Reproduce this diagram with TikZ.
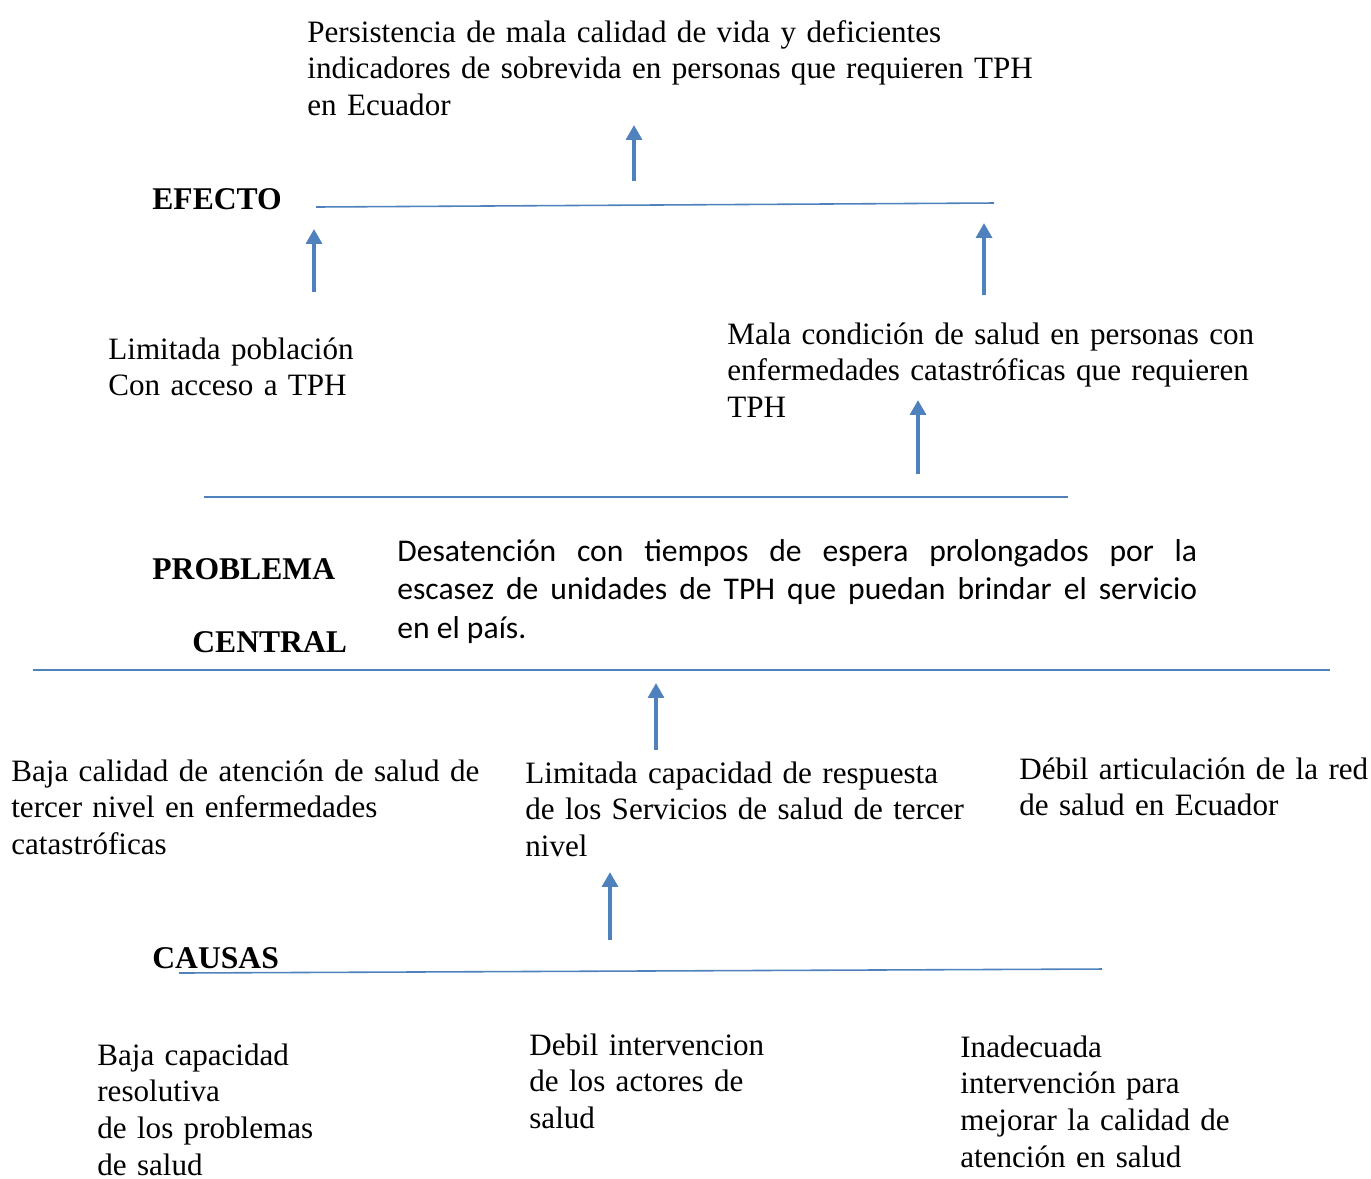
\documentclass[tikz,border=0pt]{standalone}
\usepackage{fontspec}
\setmainfont{Liberation Serif}
\newfontfamily\calibrifont{Carlito}
\usetikzlibrary{arrows.meta}
\definecolor{wordblue}{HTML}{4F81BD}
\tikzset{
	txt/.style={anchor=base west,inner sep=0pt,text width=16cm,align=left,font=\fontsize{17.7pt}{21pt}\selectfont},
	lbl/.style={anchor=base west,inner sep=0pt,font=\fontsize{18pt}{21pt}\selectfont\bfseries},
	bar/.style={wordblue,line width=0.9pt},
	up/.style={wordblue,line width=2.8pt,-{Triangle[width=9pt,length=8.5pt]}}
}
\begin{document}
\begin{tikzpicture}[x=0.02cm,y=-0.02cm]
	\useasboundingbox (0,0) rectangle (1371,1178);

	% efecto
	\node [txt] (persistencia) at (307,42) {Persistencia de mala calidad de vida y deficientes\\indicadores de sobrevida en personas que requieren TPH\\en Ecuador};
	\node [lbl] (efecto) at (152,209) {EFECTO};
	\node [txt] (poblacion) at (108,359) {Limitada población\\Con acceso a TPH};
	\node [txt] (condicion) at (727,344) {Mala condición de salud en personas con\\enfermedades catastróficas que requieren\\TPH};

	\coordinate (e1) at (316,207); \coordinate (e2) at (994,203);
	\draw [bar] (e1) -- (e2);
	\coordinate (u1a) at (634,181); \coordinate (u1b) at (634,125);
	\coordinate (u2a) at (314,292); \coordinate (u2b) at (314,229);
	\coordinate (u3a) at (984,295); \coordinate (u3b) at (984,223);
	\coordinate (u4a) at (918,474); \coordinate (u4b) at (918,400);
	\draw [up] (u1a) -- (u1b);
	\draw [up] (u2a) -- (u2b);
	\draw [up] (u3a) -- (u3b);
	\draw [up] (u4a) -- (u4b);

	% problema central
	\coordinate (p1) at (204,497); \coordinate (p2) at (1068,497);
	\draw [bar] (p1) -- (p2);
	\node [lbl] (problema) at (152,579) {PROBLEMA};
	\node [lbl] (central) at (192,652) {CENTRAL};
	\node [anchor=base west,inner sep=0pt,text width=16cm,align=justify,font=\calibrifont\fontsize{18pt}{22.1pt}\selectfont] (desatencion) at (397,561) {Desatención con tiempos de espera prolongados por la\linebreak escasez de unidades de TPH que puedan brindar el servicio\linebreak en el país.};
	\coordinate (c1) at (33,670); \coordinate (c2) at (1330,670);
	\draw [bar] (c1) -- (c2);

	% causas
	\coordinate (u5a) at (656,750); \coordinate (u5b) at (656,683);
	\coordinate (u6a) at (610,940); \coordinate (u6b) at (610,872);
	\draw [up] (u5a) -- (u5b);
	\draw [up] (u6a) -- (u6b);
	\node [txt] (atencion) at (11,781) {Baja calidad de atención de salud de\\tercer nivel en enfermedades\\catastróficas};
	\node [txt] (respuesta) at (525,783) {Limitada capacidad de respuesta\\de los Servicios de salud de tercer\\nivel};
	\node [txt] (red) at (1019,779) {Débil articulación de la red\\de salud en Ecuador};
	\node [lbl] (causas) at (152,968) {CAUSAS};
	\coordinate (k1) at (179,973); \coordinate (k2) at (1102,969);
	\draw [bar] (k1) -- (k2);
	\node [txt] (resolutiva) at (97,1065) {Baja capacidad\\resolutiva\\de los problemas\\de salud};
	\node [txt] (actores) at (529,1055) {Debil intervencion\\de los actores de\\salud};
	\node [txt] (inadecuada) at (960,1057) {Inadecuada\\intervención para\\mejorar la calidad de\\atención en salud};
\end{tikzpicture}
\end{document}
